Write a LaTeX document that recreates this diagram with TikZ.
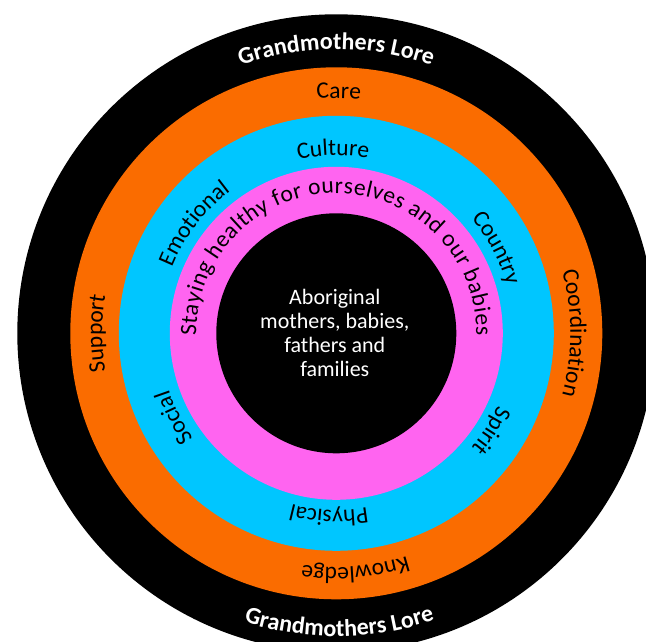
\documentclass[tikz,border=0pt]{standalone}
\usepackage{fontspec}
\setmainfont{Carlito}
\usepackage{tikz}
\usetikzlibrary{decorations.text}
\usepackage{xcolor}
\definecolor{ringorange}{RGB}{250,108,0}
\definecolor{ringcyan}{RGB}{0,198,255}
\definecolor{ringpink}{RGB}{255,100,240}
\newcommand{\ringfont}{\fontsize{23.5}{26}\selectfont}
\newcommand{\lorefont}{\fontsize{24}{28}\selectfont\bfseries}
\tikzset{
  ringlbl/.style={decorate, decoration={text along path,
    text align=center, text={|\ringfont|#1}}},
  fitlbl/.style={decorate, decoration={text along path,
    text align=fit to path, text={|\ringfont|#1}}},
  lorelbl/.style={decorate, decoration={text along path,
    text align=center, text color=white, text={|\lorefont|#1}}},
  core/.style={text=white, align=center,
    font=\fontsize{22}{24}\selectfont, inner sep=0pt},
}

\begin{document}
\begin{tikzpicture}[x=1pt, y=1pt]
  % Page area
  \useasboundingbox (-336.3,-308.7) rectangle (309.7,333.3);
  \fill[white] (-336.3,-308.7) rectangle (309.7,333.3);
  \clip (-336.3,-308.7) rectangle (309.7,333.3);

  % Rings, outside in
  \fill[black]      (0,0) circle (319);
  \fill[ringorange] (0,0) circle (266);
  \fill[ringcyan]   (0,0) circle (217.5);
  \fill[ringpink]   (0,0) circle (166.5);
  \fill[black]      (0,0) circle (120);

  % Grandmothers Lore: top runs clockwise, bottom anticlockwise
  \path[lorelbl={Grandmothers Lore}]
       (150:284) arc[start angle=150, end angle=30, radius=284];
  \path[lorelbl={Grandmothers Lore}]
       (-149.4:303) arc[start angle=-149.4, end angle=-29.4, radius=303];

  % Orange ring
  \path[ringlbl=Care]
       (159.4:235) arc[start angle=159.4, end angle=19.4, radius=235];
  \path[ringlbl=Coordination]
       (70:234) arc[start angle=70, end angle=-70, radius=234];
  \path[ringlbl=Knowledge]
       (-15.4:234) arc[start angle=-15.4, end angle=-155.4, radius=234];
  \path[ringlbl=Support]
       (250:234) arc[start angle=250, end angle=110, radius=234];

  % Cyan ring
  \path[ringlbl=Culture]
       (141:178) arc[start angle=141, end angle=41, radius=178];
  \path[ringlbl=Country]
       (78:177) arc[start angle=78, end angle=-22, radius=177];
  \path[ringlbl=Spirit]
       (17.8:177) arc[start angle=17.8, end angle=-82.2, radius=177];
  \path[ringlbl=Physical]
       (-42.3:177) arc[start angle=-42.3, end angle=-142.3, radius=177];
  \path[ringlbl=Social]
       (257.5:177) arc[start angle=257.5, end angle=157.5, radius=177];
  \path[ringlbl=Emotional]
       (192.4:177) arc[start angle=192.4, end angle=92.4, radius=177];

  % Pink ring
  \path[fitlbl={Staying healthy for ourselves and our babies}]
       (181:140) arc[start angle=181, end angle=-1, radius=140];

  % Centre
  \node[core] (core) at (-1.5,0)
       {Aboriginal\\mothers, babies,\\fathers and\\families};
\end{tikzpicture}
\end{document}
